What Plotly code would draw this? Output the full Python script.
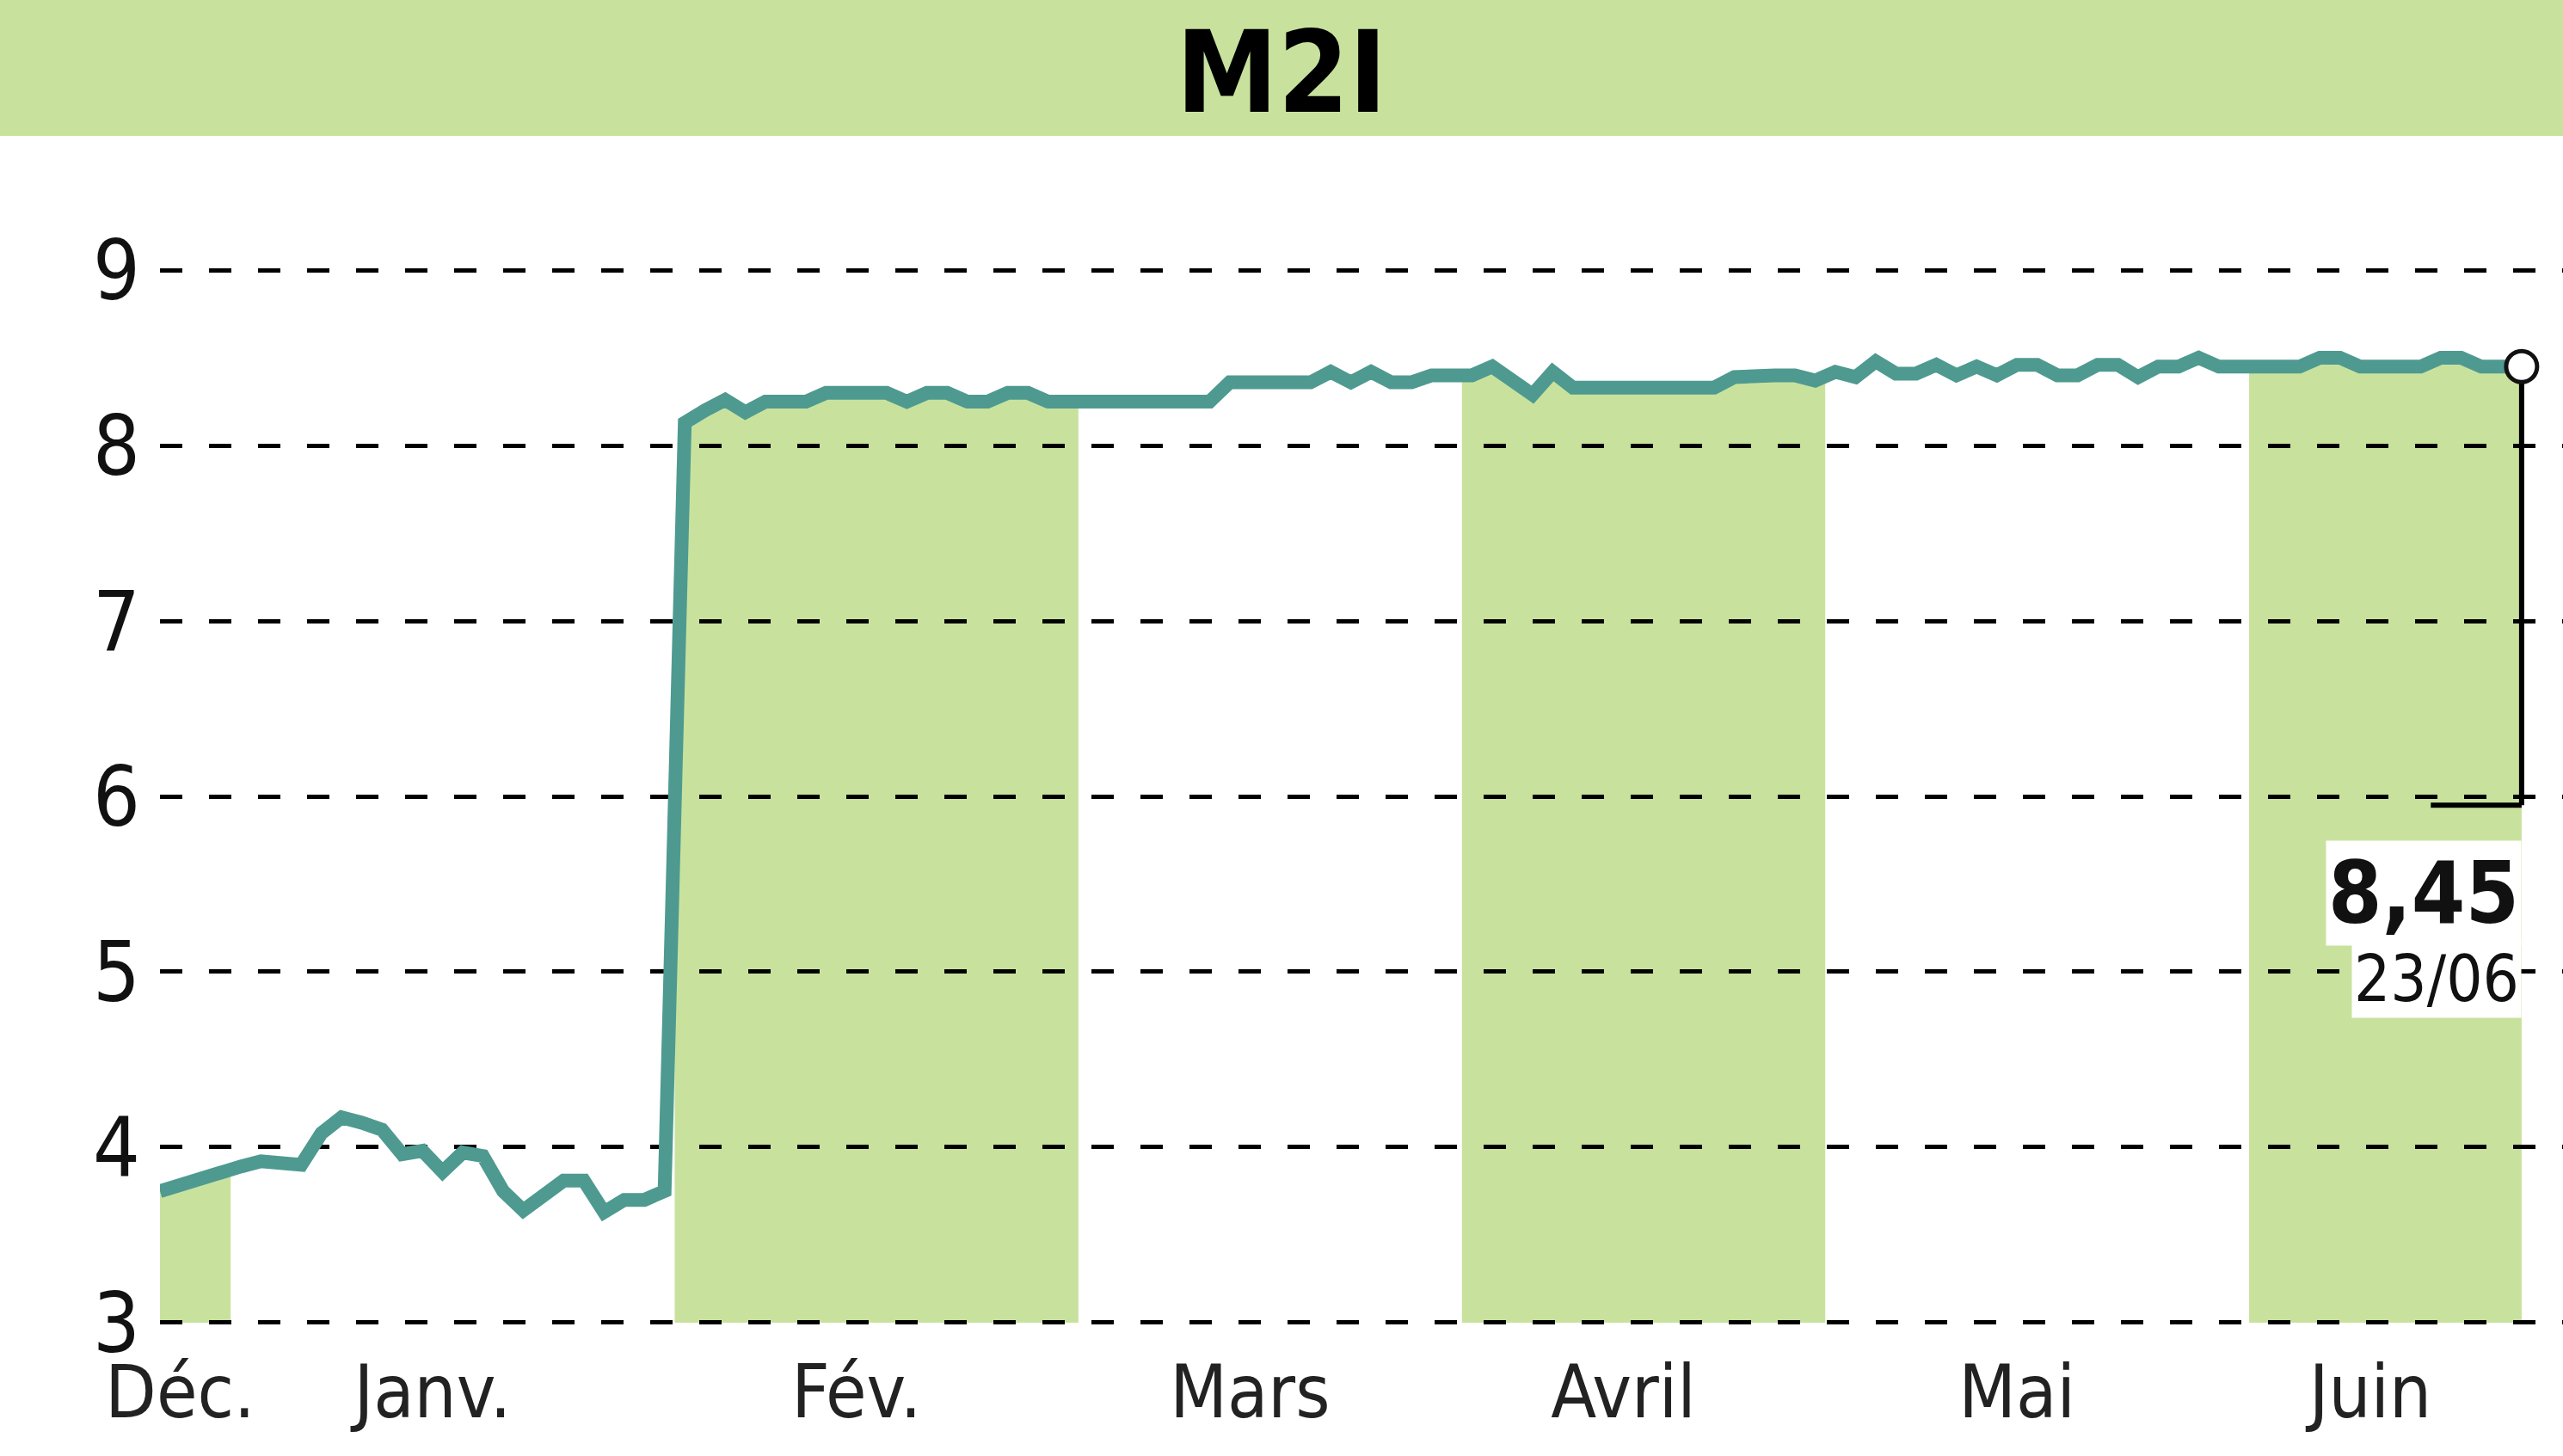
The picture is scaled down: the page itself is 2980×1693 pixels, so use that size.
import plotly.graph_objects as go

# Cours M2I, une valeur par séance, de fin décembre au 23/06
month_names = ["Déc.", "Janv.", "Fév.", "Mars", "Avril", "Mai", "Juin"]

dec_vals = [3.75, 3.79, 3.82, 3.86]
jan_vals = [3.89, 3.92, 3.91, 3.90, 4.08, 4.17, 4.14, 4.10, 3.96, 3.98, 3.86,
            3.97, 3.95, 3.75, 3.64, 3.72, 3.81, 3.81, 3.63, 3.70, 3.70, 3.75]
feb_vals = [8.13, 8.20, 8.26, 8.19, 8.25, 8.25, 8.25, 8.30, 8.30, 8.30,
            8.30, 8.25, 8.30, 8.30, 8.25, 8.25, 8.30, 8.30, 8.25, 8.25]
mar_vals = [8.25, 8.25, 8.25, 8.25, 8.25, 8.25, 8.25, 8.36, 8.36, 8.36,
            8.36, 8.36, 8.42, 8.36, 8.42, 8.36, 8.36, 8.40, 8.40]
apr_vals = [8.40, 8.45, 8.37, 8.29, 8.42, 8.33, 8.33, 8.33, 8.33, 8.34,
            8.34, 8.34, 8.33, 8.39, 8.40, 8.40, 8.40, 8.37]
may_vals = [8.42, 8.39, 8.48, 8.41, 8.41, 8.46, 8.40, 8.45, 8.40, 8.46, 8.46,
            8.40, 8.40, 8.46, 8.46, 8.39, 8.45, 8.45, 8.50, 8.45, 8.45]
jun_vals = [8.45, 8.45, 8.45, 8.50, 8.50, 8.45, 8.45, 8.45, 8.45, 8.50,
            8.50, 8.45, 8.45, 8.45]

shaded = [True, False, True, False, True, False, True]
y_ticks = [3, 4, 5, 6, 7, 8, 9]

last_price = "8,45"
last_date = "23/06"

LINE = "#4e9a90"
GREEN = "#c8e29e"
FONT = "Liberation Sans Narrow, DejaVu Sans Condensed, Arial Narrow, sans-serif"

W, H = 2980, 1693
M_L, M_R, M_T, M_B = 186, 0, 313, 154
HEADER_H = 158

months = [dec_vals, jan_vals, feb_vals, mar_vals, apr_vals, may_vals, jun_vals]
prices = [v for m in months for v in m]
xs = list(range(len(prices)))
last = xs[-1]

starts = []
pos = 0
for m in months:
    starts.append(pos)
    pos += len(m)


def y_at(x):
    # valeur sur la ligne, interpolée entre deux séances
    i = int(x)
    if i >= last:
        return prices[last]
    f = x - i
    return prices[i] + (prices[i + 1] - prices[i]) * f


ymin = y_ticks[0]
shapes = []

# bandeau du titre
shapes.append(dict(type="rect", xref="paper", yref="paper",
                   x0=-0.2, x1=1.2,
                   y0=1 + (M_T - HEADER_H) / (H - M_T - M_B), y1=1.4,
                   fillcolor=GREEN, line_width=0, layer="below"))

# un mois sur deux : aire verte sous la courbe
for k, m in enumerate(months):
    if not shaded[k]:
        continue
    s = starts[k]
    e = s + len(m) - 1
    xa = max(s - 0.5, 0)
    xb = min(e + 0.5, last)
    pts = [(xa, y_at(xa))] + [(x, prices[x]) for x in range(s, e + 1) if xa < x < xb] + [(xb, y_at(xb))]
    path = f"M{xa},{ymin}" + "".join(f"L{x},{y}" for x, y in pts) + f"L{xb},{ymin}Z"
    shapes.append(dict(type="path", xref="x", yref="y", path=path,
                       fillcolor=GREEN, line_width=0, layer="below"))

# repère du dernier cours
bracket_y = 5.95
shapes.append(dict(type="line", xref="x", yref="y", x0=last, x1=last,
                   y0=bracket_y, y1=prices[-1], line=dict(color="black", width=6),
                   layer="between"))
shapes.append(dict(type="line", xref="x", yref="y", x0=last - 4.5, x1=last,
                   y0=bracket_y, y1=bracket_y, line=dict(color="black", width=6),
                   layer="between"))

fig = go.Figure()
fig.add_trace(go.Scatter(x=xs, y=prices, mode="lines",
                         line=dict(color=LINE, width=16), hoverinfo="y"))
fig.add_trace(go.Scatter(x=[last], y=[prices[-1]], mode="markers",
                         marker=dict(size=36, color="white",
                                     line=dict(color="#111111", width=5)),
                         cliponaxis=False, hoverinfo="skip"))

tickvals = [max(1, s + (len(m) - 1) / 2 - 1) for s, m in zip(starts, months)]

fig.update_layout(
    width=W, height=H,
    margin=dict(l=M_L, r=M_R, t=M_T, b=M_B),
    paper_bgcolor="white", plot_bgcolor="white",
    showlegend=False,
    shapes=shapes,
    title=dict(text="<b>M2I</b>", x=0.5, xref="container", xanchor="center",
               y=1 - 84 / H, yref="container", yanchor="middle",
               font=dict(family=FONT, size=132, color="black")),
    font=dict(family=FONT, color="#111111"),
    xaxis=dict(range=[0, last + 2.05], showgrid=False, zeroline=False,
               showline=False, ticks="", tickvals=tickvals, ticktext=month_names,
               tickfont=dict(size=86, color="#222222"), ticklabelstandoff=22,
               fixedrange=True),
    yaxis=dict(range=[ymin - 0.005, y_ticks[-1] + 0.005], tickvals=y_ticks,
               ticktext=[str(t) for t in y_ticks], showgrid=True,
               gridcolor="black", gridwidth=5, griddash="26px,31px",
               zeroline=False, showline=False, ticks="",
               tickfont=dict(size=96, color="#111111"), ticklabelstandoff=22,
               fixedrange=True),
    annotations=[
        dict(x=last, y=5.45, xref="x", yref="y", xanchor="right", yanchor="middle",
             text=f"<b>{last_price}</b>", showarrow=False, bgcolor="white",
             borderpad=2, font=dict(family=FONT, size=100, color="#111111")),
        dict(x=last, y=4.96, xref="x", yref="y", xanchor="right", yanchor="middle",
             text=last_date, showarrow=False, bgcolor="white", borderpad=2,
             font=dict(family=FONT, size=74, color="#111111")),
    ],
)

fig.write_html("out.html", config={"displayModeBar": False},
               post_script="document.body.style.margin='0';")
